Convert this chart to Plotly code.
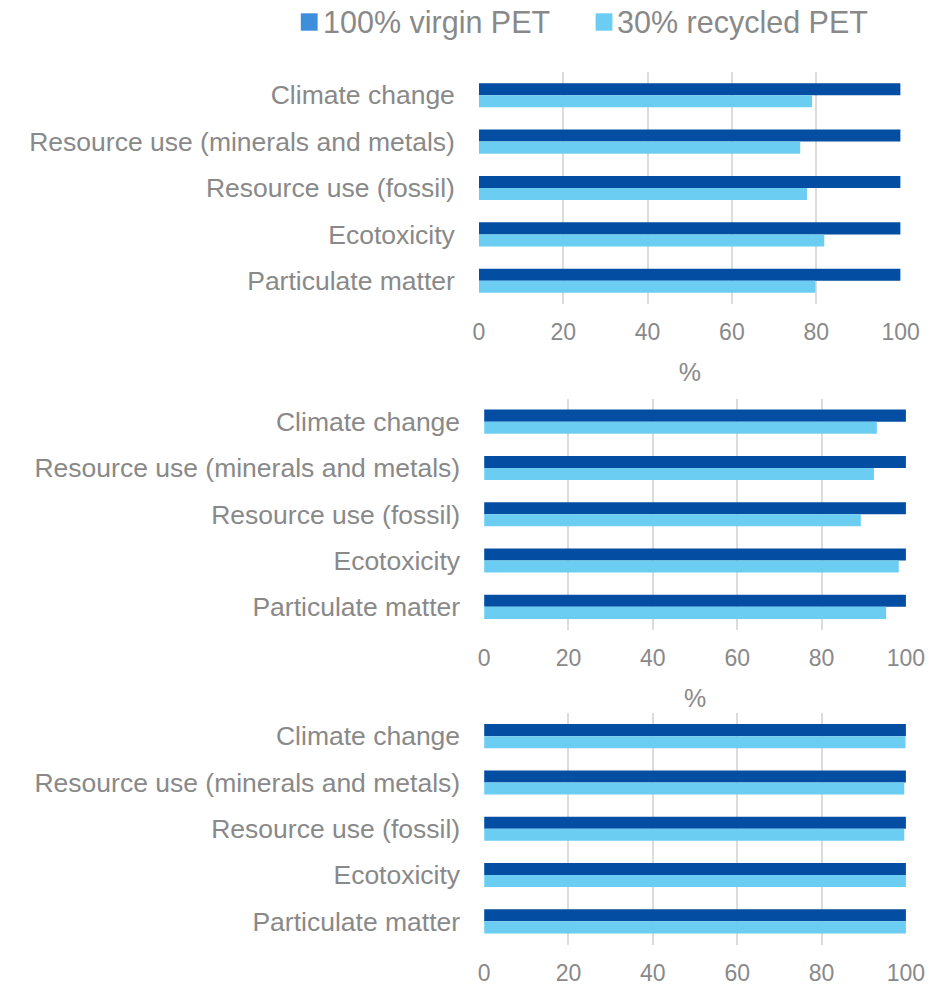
import plotly.graph_objects as go

# Impact categories (top to bottom)
categories = [
    "Climate change",
    "Resource use (minerals and metals)",
    "Resource use (fossil)",
    "Ecotoxicity",
    "Particulate matter",
]

series_names = ["100% virgin PET", "30% recycled PET"]
x_ticks = [0, 20, 40, 60, 80, 100]

# Relative impact (%) for each of the three panels
virgin_pet_1 = [100, 100, 100, 100, 100]
recycled_pet_1 = [79.0, 76.2, 77.8, 81.9, 79.8]

virgin_pet_2 = [100, 100, 100, 100, 100]
recycled_pet_2 = [93.1, 92.4, 89.3, 98.3, 95.3]

virgin_pet_3 = [100, 100, 100, 100, 100]
recycled_pet_3 = [99.9, 99.6, 99.6, 100.0, 100.0]

panels = [
    (virgin_pet_1, recycled_pet_1),
    (virgin_pet_2, recycled_pet_2),
    (virgin_pet_3, recycled_pet_3),
]

DARK = "#034ea2"
LIGHT = "#6ccdf2"
LEGEND_DARK = "#3d8fdb"
TEXT = "#898989"
GRID = "#dcdcdc"
FONT = "Liberation Sans, Arial, sans-serif"

W, H = 948, 988
# usable page width once the browser's scrollbar gutter is taken off
W_EFF = 933

# Plot areas in pixels: (left, right, top, bottom)
areas = [
    (478, 904.3, 72, 304),
    (483.3, 909.7, 398.5, 630),
    (483.3, 909.7, 713, 944.5),
]
show_pct_title = [True, True, False]

fig = go.Figure()
for i, (virgin, recycled) in enumerate(panels, start=1):
    fig.add_trace(go.Bar(
        y=categories, x=virgin, orientation="h", name=series_names[0],
        marker=dict(color=DARK, line=dict(width=0)),
        xaxis=f"x{i}", yaxis=f"y{i}", showlegend=False,
    ))
    fig.add_trace(go.Bar(
        y=categories, x=recycled, orientation="h", name=series_names[1],
        marker=dict(color=LIGHT, line=dict(width=0)),
        xaxis=f"x{i}", yaxis=f"y{i}", showlegend=False,
    ))

layout = dict(
    width=W, height=H,
    margin=dict(l=0, r=0, t=0, b=0),
    paper_bgcolor="white", plot_bgcolor="white",
    barmode="group", bargap=0.48, bargroupgap=0,
    font=dict(family=FONT, color=TEXT),
    showlegend=False,
)

for i, (left, right, top, bottom) in enumerate(areas, start=1):
    xa = dict(
        domain=[left / W_EFF, right / W_EFF],
        anchor=f"y{i}",
        range=[0, 100],
        tickmode="array", tickvals=x_ticks, ticktext=[str(t) for t in x_ticks],
        showgrid=True, gridcolor=GRID, gridwidth=2,
        zeroline=False, showline=False, ticks="",
        tickfont=dict(size=23, color=TEXT, family=FONT),
        ticklabelstandoff=12,
    )
    if show_pct_title[i - 1]:
        xa["title"] = dict(text="%", font=dict(size=25, color=TEXT, family=FONT), standoff=19)
    ya = dict(
        domain=[1 - bottom / H, 1 - top / H],
        anchor=f"x{i}",
        autorange="reversed",
        showgrid=False, zeroline=False, showline=False, ticks="",
        tickfont=dict(size=26.5, color=TEXT, family=FONT),
        ticklabelstandoff=23,
    )
    key = "" if i == 1 else str(i)
    layout[f"xaxis{key}"] = xa
    layout[f"yaxis{key}"] = ya

fig.update_layout(**layout)

# Legend row across the top: colour swatch + label
legend_items = [(series_names[0], LEGEND_DARK, 298), (series_names[1], LIGHT, 596)]
for name, color, xpos in legend_items:
    fig.add_shape(
        type="rect", xref="paper", yref="paper",
        x0=xpos / W_EFF, x1=(xpos + 17) / W_EFF,
        y0=1 - 30.7 / H, y1=1 - 13.3 / H,
        fillcolor=color, line=dict(width=0),
    )
    fig.add_annotation(
        xref="paper", yref="paper", x=(xpos + 20) / W_EFF, y=1 - 22 / H,
        xanchor="left", yanchor="middle", showarrow=False,
        text=name,
        font=dict(size=30.5, color=TEXT, family=FONT),
    )

fig.write_html("out.html")
